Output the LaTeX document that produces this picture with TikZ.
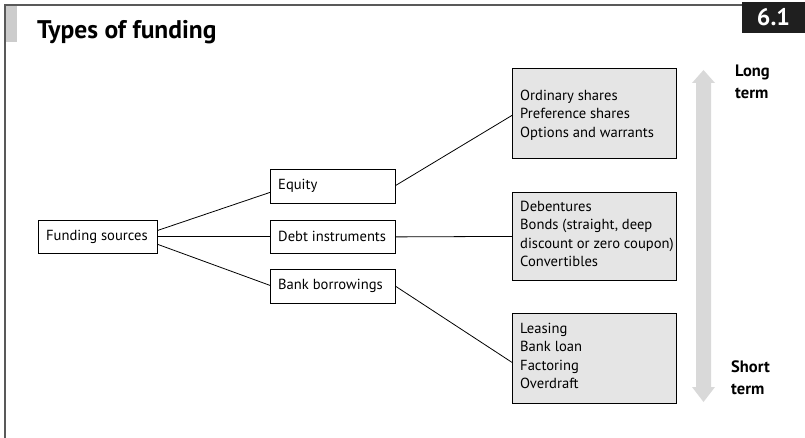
\documentclass[tikz,border=0pt]{standalone}
\usepackage{fontspec}
\setmainfont{PT Sans}
\begin{document}
\begin{tikzpicture}[x=1pt,y=-1pt,
  boxnode/.style={draw, line width=0.8pt, inner sep=0pt, anchor=north west},
  graybox/.style={draw, line width=0.8pt, fill=black!10, inner sep=0pt, anchor=north west},
  txt/.style={anchor=west, inner sep=0pt, font=\fontsize{14.6}{16}\selectfont},
  listtxt/.style={anchor=north west, inner sep=0pt, align=left, font=\fontsize{14.6}{18.3}\selectfont},
  conn/.style={line width=0.8pt},
  lbl/.style={font=\bfseries\fontsize{16.5}{22}\selectfont, align=left, anchor=north west, inner sep=0pt}]
\useasboundingbox (0,0) rectangle (805,438);
% frame
\fill[black!20] (5,5) rectangle (17,42);
\draw[black!65, line width=1.3pt] (5,438) -- (5,5) -- (742,5);
\fill[black!88] (742,2) rectangle (805,33);
\node[text=white, font=\bfseries\fontsize{24}{26}\selectfont] (num) at (773.5,17.5) {6.1};
\node[font=\bfseries\fontsize{25.5}{28}\selectfont, anchor=base west, inner sep=0pt] (title) at (37,39) {Types of funding};
% left nodes
\node[boxnode, minimum width=119, minimum height=33] (fs) at (38,220) {};
\node[txt] (fst) at (46,236.5) {Funding sources};
\node[boxnode, minimum width=125, minimum height=34] (eq) at (270,169) {};
\node[txt] (eqt) at (278,186) {Equity};
\node[boxnode, minimum width=125, minimum height=33] (debt) at (270,220) {};
\node[txt] (debtt) at (278,236.5) {Debt instruments};
\node[boxnode, minimum width=125, minimum height=34] (bank) at (270,269) {};
\node[txt] (bankt) at (278,286) {Bank borrowings};
% gray boxes
\node[graybox, minimum width=164, minimum height=90] (top) at (512,68) {};
\node[listtxt] (topt) at (520,90) {Ordinary shares\\Preference shares\\Options and warrants};
\node[graybox, minimum width=164, minimum height=88] (mid) at (512,192) {};
\node[listtxt] (midt) at (520,201) {Debentures\\Bonds (straight, deep\\discount or zero coupon)\\Convertibles};
\node[graybox, minimum width=164, minimum height=90] (bot) at (512,313) {};
\node[listtxt] (bott) at (520,323) {Leasing\\Bank loan\\Factoring\\Overdraft};
% connectors
\draw[conn] ([yshift=6.5]fs.east) -- ([yshift=-6]eq.west);
\draw[conn] (fs.east) -- (debt.west);
\draw[conn] ([yshift=-7.5]fs.east) -- ([yshift=1]bank.west);
\draw[conn] ([yshift=1]eq.east) -- ([yshift=-2]top.west);
\draw[conn] (debt.east) -- (mid.west);
\draw[conn] (bank.east) -- ([yshift=-4]bot.west);
% arrow
\fill[black!15] (703.5,70) -- (715,83) -- (711,83) -- (711,387) -- (715,387) -- (703.5,402) -- (692,387) -- (696,387) -- (696,83) -- (692,83) -- cycle;
\node[lbl] (lt) at (735,65) {Long\\term};
\node[lbl] (st) at (731,361) {Short\\term};
\end{tikzpicture}
\end{document}
